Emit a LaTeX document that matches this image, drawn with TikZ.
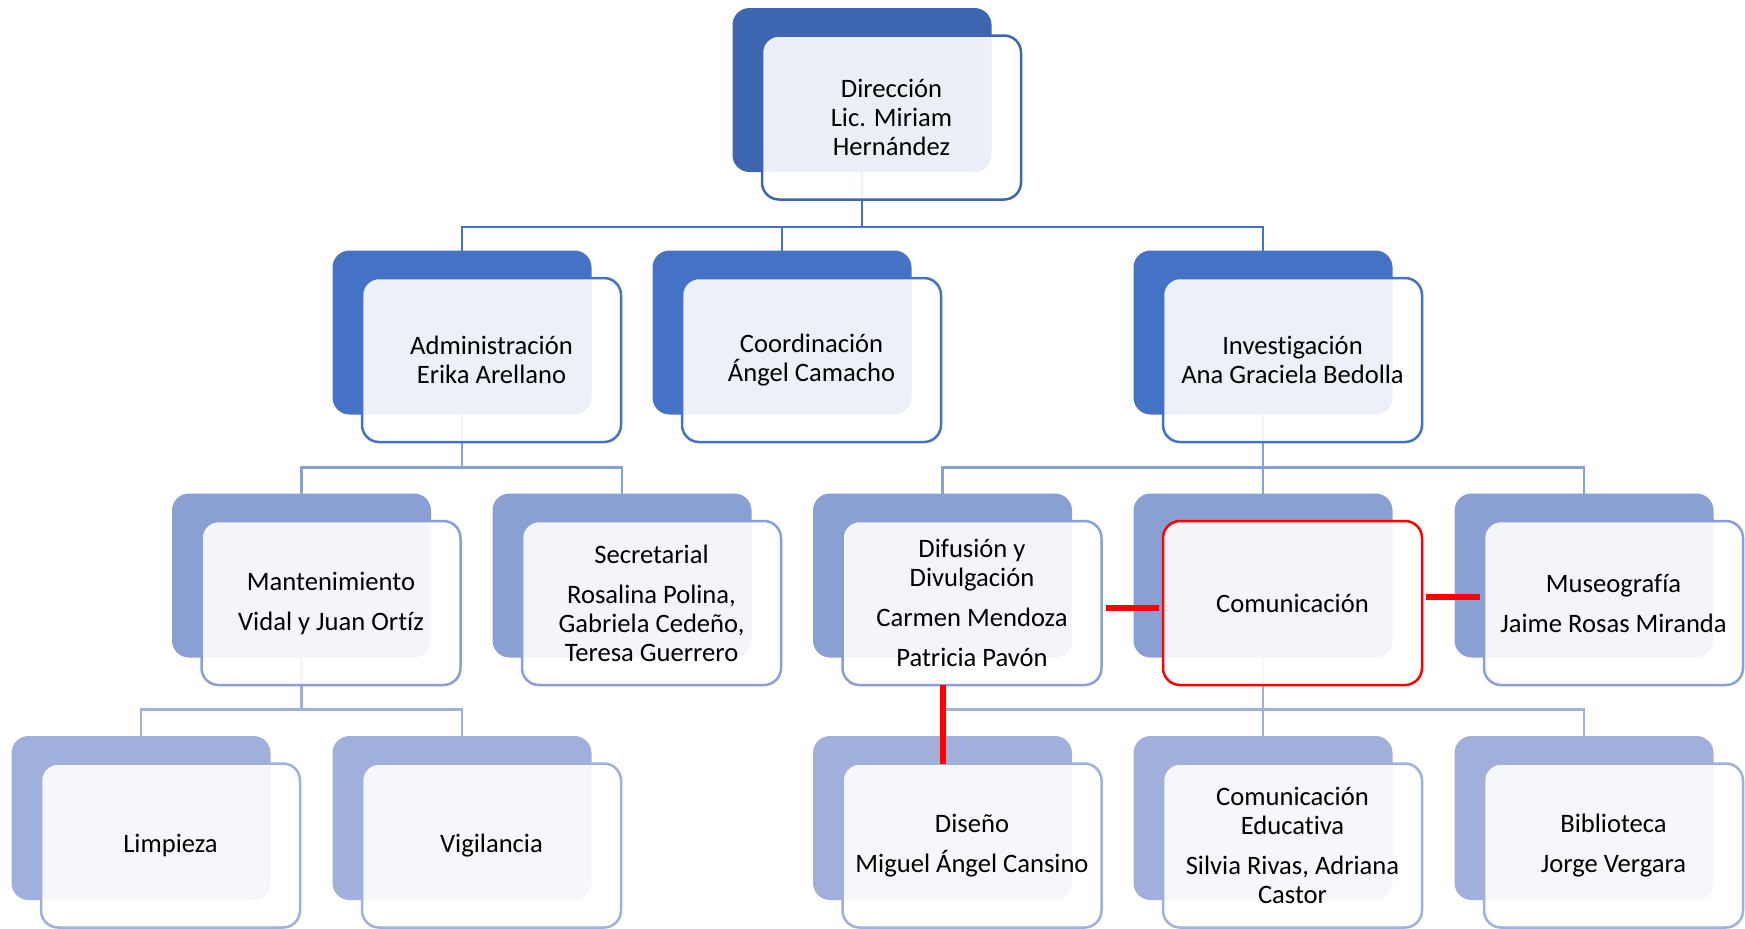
\documentclass[tikz,border=0pt]{standalone}
\usepackage{fontspec}
\setmainfont{Carlito}[Ligatures={NoCommon,NoContextual}]
\usetikzlibrary{backgrounds}
\definecolor{tone0}{HTML}{3D65B0}
\definecolor{tone1}{HTML}{4472C4}
\definecolor{tone2}{HTML}{8A9FD3}
\definecolor{tone3}{HTML}{A0B0DA}
\definecolor{alert}{HTML}{FF0000}
\begin{document}
\begin{tikzpicture}[x=0.5pt,y=-0.5pt,
	back/.style={rectangle, rounded corners=8.5pt, minimum width=129.5pt, minimum height=82pt, inner sep=0pt, outer sep=0pt},
	front/.style={back, draw, line width=1.25pt, fill=white, fill opacity=0.9, text opacity=1, xshift=14.75pt, yshift=-13.75pt, align=center, font=\fontsize{13.3}{14.5}\selectfont},
	back0/.style={back, fill=tone0}, front0/.style={front, draw=tone0},
	back1/.style={back, fill=tone1}, front1/.style={front, draw=tone1},
	back2/.style={back, fill=tone2}, front2/.style={front, draw=tone2},
	back3/.style={back, fill=tone3}, front3/.style={front, draw=tone3},
	link/.style={line width=1.25pt},
	redlink/.style={draw=alert, line width=3pt, shorten <=2pt, shorten >=2pt}]
	\useasboundingbox (0,0) rectangle (1745,928);
	
	\node[back0] (dirB) at (862,90) {};
	\node[front0] (dir) at (dirB) {Dirección\\Lic. Miriam\\Hernández};
	
	\node[back1] (admB) at (462,332.5) {};
	\node[front1] (adm) at (admB) {Administración\\Erika Arellano};
	\node[back1] (cooB) at (782,332.5) {};
	\node[front1] (coo) at (cooB) {Coordinación\\Ángel Camacho};
	\node[back1] (invB) at (1263,332.5) {};
	\node[front1] (inv) at (invB) {Investigación\\Ana Graciela Bedolla};
	
	\node[back2] (manB) at (301.5,575.5) {};
	\node[front2] (man) at (manB) {Mantenimiento\\[5.5pt]Vidal y Juan Ortíz};
	\node[back2] (secB) at (622,575.5) {};
	\node[front2] (sec) at (secB) {Secretarial\\[5.5pt]Rosalina Polina,\\Gabriela Cedeño,\\Teresa Guerrero};
	\node[back2] (difB) at (942.5,575.5) {};
	\node[front2] (dif) at (difB) {Difusión y\\Divulgación\\[5.5pt]Carmen Mendoza\\[5.5pt]Patricia Pavón};
	\node[back2] (comB) at (1263,575.5) {};
	\node[front2, draw=alert] (com) at (comB) {Comunicación};
	\node[back2] (musB) at (1584,575.5) {};
	\node[front2] (mus) at (musB) {Museografía\\[5.5pt]Jaime Rosas Miranda};
	
	\node[back3] (limB) at (141,818) {};
	\node[front3] (lim) at (limB) {Limpieza};
	\node[back3] (vigB) at (462,818) {};
	\node[front3] (vig) at (vigB) {Vigilancia};
	\node[back3] (disB) at (942.5,818) {};
	\node[front3] (dis) at (disB) {Diseño\\[5.5pt]Miguel Ángel Cansino};
	\node[back3] (eduB) at (1263,818) {};
	\node[front3] (edu) at (eduB) {Comunicación\\Educativa\\[5.5pt]Silvia Rivas, Adriana\\Castor};
	\node[back3] (bibB) at (1584,818) {};
	\node[front3] (bib) at (bibB) {Biblioteca\\[5.5pt]Jorge Vergara};
	
	\begin{scope}[on background layer]
	\draw[link, draw=tone1] (dirB.south) -- ++(0,55) -| (admB.north);
	\draw[link, draw=tone1] (dirB.south) -- ++(0,55) -| (cooB.north);
	\draw[link, draw=tone1] (dirB.south) -- ++(0,55) -| (invB.north);
	\draw[link, draw=tone2] (admB.south) -- ++(0,53) -| (manB.north);
	\draw[link, draw=tone2] (admB.south) -- ++(0,53) -| (secB.north);
	\draw[link, draw=tone2] (invB.south) -- ++(0,53) -| (difB.north);
	\draw[link, draw=tone2] (invB.south) -- ++(0,53) -| (comB.north);
	\draw[link, draw=tone2] (invB.south) -- ++(0,53) -| (musB.north);
	\draw[link, draw=tone3] (manB.south) -- ++(0,52) -| (limB.north);
	\draw[link, draw=tone3] (manB.south) -- ++(0,52) -| (vigB.north);
	\draw[link, draw=tone3] (comB.south) -- ++(0,52) -| (disB.north);
	\draw[link, draw=tone3] (comB.south) -- ++(0,52) -| (eduB.north);
	\draw[link, draw=tone3] (comB.south) -- ++(0,52) -| (bibB.north);
	\end{scope}
	
	\draw[redlink, shorten <=0pt, shorten >=0pt] (difB |- dif.south) -- (difB |- dis.north);
	\draw[redlink] ([yshift=-2.5pt]dif.east) -- ([yshift=-2.5pt]com.west);
	\draw[redlink] ([yshift=3pt]com.east) -- ([yshift=3pt]mus.west);
\end{tikzpicture}
\end{document}
